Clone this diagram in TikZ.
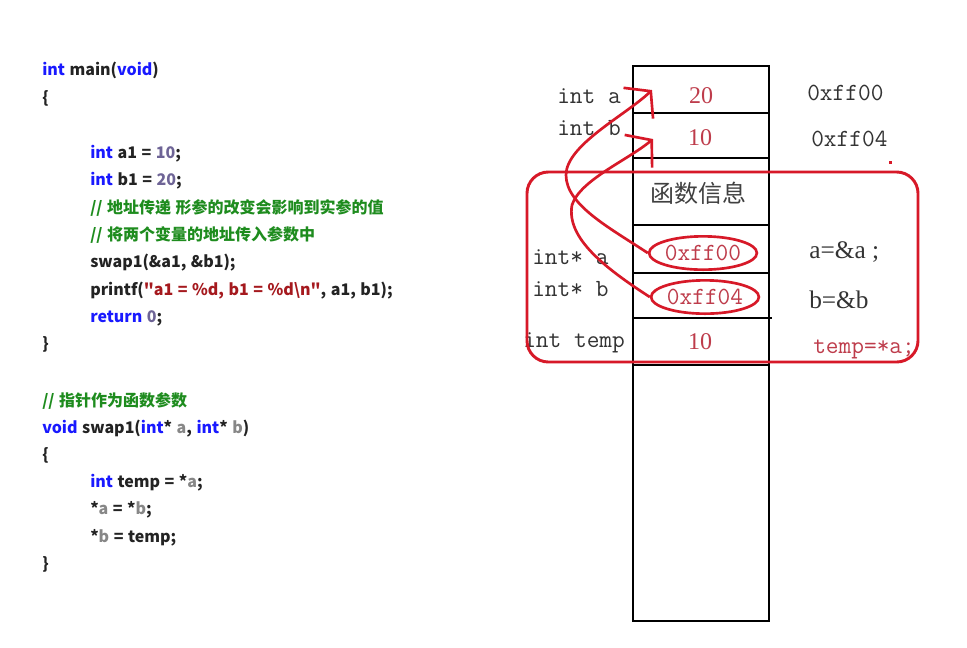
\documentclass[tikz,border=0pt]{standalone}
\usepackage{fontspec}
\usetikzlibrary{arrows.meta,shapes.geometric}
\newfontfamily\codefont{Noto Sans CJK SC}
\newfontfamily\memfont{Latin Modern Mono}
\newfontfamily\serfont{Liberation Serif}
\newfontfamily\cjkfont{Noto Sans CJK SC}
\newcommand\codesetup{\codefont\bfseries\fontsize{12}{14}\selectfont\spaceskip=3.4pt plus 1pt\relax}
\definecolor{kw}{RGB}{25,25,255}
\definecolor{num}{RGB}{110,100,150}
\definecolor{cm}{RGB}{30,140,30}
\definecolor{strc}{RGB}{165,25,30}
\definecolor{par}{RGB}{135,135,135}
\definecolor{txt}{RGB}{35,35,35}
\definecolor{mred}{RGB}{215,25,40}
\definecolor{valc}{RGB}{190,60,75}
\tikzset{
  code/.style={anchor=west, inner sep=0pt, text height=9pt, text depth=3pt,
    font=\codesetup, text=txt},
  memlbl/.style={anchor=west, inner sep=0pt, font=\memfont\fontsize{18.5}{22}\selectfont, text=black!80},
  valtxt/.style={inner sep=0pt, font=\serfont\fontsize{18}{22}\selectfont, text=valc},
  exprtxt/.style={anchor=west, inner sep=0pt, font=\serfont\fontsize{19}{22}\selectfont, text=black!80},
  colline/.style={line width=2.2pt, black},
  redbox/.style={draw=mred, line width=2.2pt, rounded corners=16pt},
  ptrell/.style={ellipse, draw=mred, line width=2pt, minimum width=70pt, minimum height=25pt, inner sep=0pt,
    font=\memfont\fontsize{18.5}{22}\selectfont, text=valc},
  redarrow/.style={draw=mred, line width=2pt, -{Straight Barb[length=13pt,width=32pt,line width=2pt]}}
}
\begin{document}
\begin{tikzpicture}[x=0.75pt,y=-0.75pt]
\path[fill=white] (0,0) rectangle (967,647);
\useasboundingbox (0,0) rectangle (967,647);
% ---------- code ----------
\node[code] (c1) at (42,71) {{\color{kw}int} main({\color{kw}void})};
\node[code] (c2) at (42,99) {\{};
\node[code] (c3) at (90,154) {{\color{kw}int} a1 = {\color{num}10};};
\node[code] (c4) at (90,181) {{\color{kw}int} b1 = {\color{num}20};};
\node[code] (c5) at (90,209) {\color{cm}// 地址传递 形参的改变会影响到实参的值};
\node[code] (c6) at (90,236) {\color{cm}// 将两个变量的地址传入参数中};
\node[code] (c7) at (90,263) {swap1(\&a1, \&b1);};
\node[code] (c8) at (90,291) {printf({\color{strc}"a1 = \%d, b1 = \%d\textbackslash n"}, a1, b1);};
\node[code] (c9) at (90,318) {{\color{kw}return} {\color{num}0};};
\node[code] (c10) at (42,345) {\}};
\node[code] (d1) at (42,402) {\color{cm}// 指针作为函数参数};
\node[code] (d2) at (42,429) {{\color{kw}void} swap1({\color{kw}int}* {\color{par}a}, {\color{kw}int}* {\color{par}b})};
\node[code] (d3) at (42,456) {\{};
\node[code] (d4) at (90,483) {{\color{kw}int} temp = *{\color{par}a};};
\node[code] (d5) at (90,510) {*{\color{par}a} = *{\color{par}b};};
\node[code] (d6) at (90,538) {*{\color{par}b} = temp;};
\node[code] (d7) at (42,565) {\}};
% ---------- memory column ----------
\draw[colline] (633,66) rectangle (769,621);
\draw[colline] (633,113) -- (769,113);
\draw[colline] (633,158) -- (769,158);
\draw[colline] (633,225) -- (769,225);
\draw[colline] (633,273) -- (769,273);
\draw[colline] (633,318) -- (772,318);
\draw[colline] (633,365) -- (769,365);
% cell contents
\node[valtxt] (v20) at (701,96) {20};
\node[valtxt] (v10) at (700,138) {10};
\node[inner sep=0pt, font=\cjkfont\fontsize{18}{22}\selectfont, text=black!75] (fi) at (698,193) {函数信息};
\node[ptrell] (ea) at (703,253) {0xff00};
\node[ptrell] (eb) at (705,297) {0xff04};
\node[valtxt] (vt) at (700,342) {10};
% left labels
\node[memlbl] (la) at (557,96) {int a};
\node[memlbl] (lb) at (557,128) {int b};
\node[memlbl] (lpa) at (532,257) {int* a};
\node[memlbl] (lpb) at (532,289) {int* b};
\node[memlbl] (lt) at (523,343) {int temp};
% right addresses and expressions
\node[memlbl] (ra) at (807,93) {0xff00};
\node[memlbl] (rb) at (811,139) {0xff04};
\node[exprtxt] (xa) at (809,252) {a=\&a ;};
\node[exprtxt] (xb) at (809,300) {b=\&b};
\node[memlbl, text=valc] (xt) at (813,349) {temp=*a;};
% red box
\draw[redbox] (527,172) rectangle (918,362);
\fill[mred] (889,161) rectangle (892,164);
% arrows
\coordinate (ta) at (652,90);
\coordinate (tb) at (653,139);
\draw[redarrow] (ea.west) .. controls (610,228) and (566,205) .. (566,175)
   .. controls (566,145) and (626,115) .. (ta);
\draw[redarrow] (eb.west) .. controls (605,268) and (566,238) .. (572,205)
   .. controls (580,180) and (628,160) .. (tb);
\end{tikzpicture}
\end{document}
